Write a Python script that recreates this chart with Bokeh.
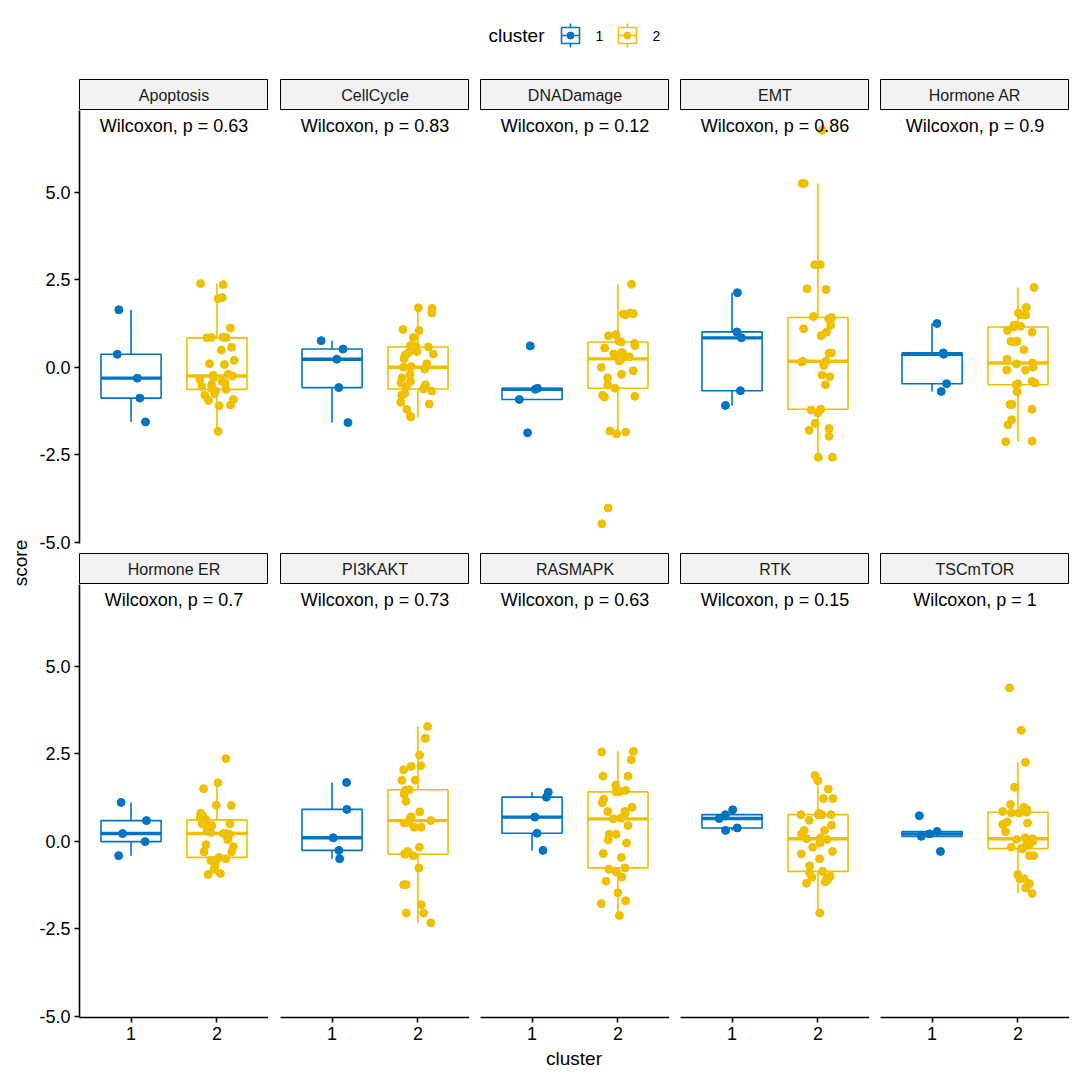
import numpy as np
from bokeh.plotting import figure
from bokeh.layouts import row, column
from bokeh.models import Range1d, FixedTicker, NumeralTickFormatter, ColumnDataSource
from bokeh.transform import jitter
from bokeh.core.properties import value
from bokeh.embed import file_html
from bokeh.resources import INLINE

# ---------------- data ----------------
pathways = ["Apoptosis", "CellCycle", "DNADamage", "EMT", "Hormone AR",
            "Hormone ER", "PI3KAKT", "RASMAPK", "RTK", "TSCmTOR"]
p_values = ["0.63", "0.83", "0.12", "0.86", "0.9", "0.7", "0.73", "0.63", "0.15", "1"]
cluster_labels = ["1", "2"]
y_ticks = [-5.0, -2.5, 0.0, 2.5, 5.0]

apoptosis_c1 = [1.64, 0.37, -0.31, -0.88, -1.56]
apoptosis_c2 = [2.39, 2.36, 1.99, 1.96, 1.12, 0.86, 0.85, 0.85, 0.84, 0.57, 0.49, 0.2, 0.1,
                0.08, -0.2, -0.23, -0.25, -0.3, -0.35, -0.4, -0.45, -0.5, -0.55, -0.6, -0.63,
                -0.68, -0.75, -0.8, -0.92, -0.95, -1.08, -1.1, -1.83]
cellcycle_c1 = [0.76, 0.52, 0.23, -0.58, -1.58]
cellcycle_c2 = [1.70, 1.68, 1.55, 1.08, 1.05, 0.85, 0.62, 0.60, 0.58, 0.45, 0.42, 0.38, 0.35,
                0.25, 0.1, 0.02, 0.0, -0.05, -0.2, -0.3, -0.4, -0.45, -0.5, -0.55, -0.62,
                -0.68, -0.75, -0.8, -1.0, -1.05, -1.2, -1.4, -1.42]
dnadamage_c1 = [0.61, -0.6, -0.63, -0.92, -1.87]
dnadamage_c2 = [2.37, 1.55, 1.53, 1.52, 1.50, 0.93, 0.90, 0.75, 0.72, 0.68, 0.62, 0.55, 0.42,
                0.40, 0.38, 0.3, 0.24, 0.2, 0.18, 0.0, -0.1, -0.2, -0.3, -0.5, -0.6,
                -0.8, -0.83, -0.85, -1.82, -1.85, -1.9, -4.02, -4.47]
emt_c1 = [2.13, 1.01, 0.84, -0.67, -1.09]
emt_c2 = [6.77, 5.25, 5.25, 2.93, 2.93, 2.24, 2.22, 1.45, 1.42, 1.38, 1.2, 1.1, 1.0,
          0.9, 0.41, 0.4, 0.17, 0.17, 0.15, 0.1, 0.05, -0.22, -0.27, -0.5, -1.2,
          -1.22, -1.3, -1.6, -1.75, -1.8, -1.97, -2.57, -2.57]
hormone_ar_c1 = [1.25, 0.41, 0.37, -0.47, -0.69]
hormone_ar_c2 = [2.28, 1.71, 1.55, 1.5, 1.49, 1.2, 1.2, 1.17, 1.15, 1.05, 1.0, 0.74, 0.74,
                 0.72, 0.5, 0.23, 0.12, 0.1, 0.0, -0.08, -0.08, -0.4, -0.45, -0.47, -0.5,
                 -0.7, -1.06, -1.06, -1.2, -1.5, -1.64, -2.13, -2.11]
hormone_er_c1 = [1.11, 0.59, 0.22, -0.01, -0.41]
hormone_er_c2 = [2.36, 1.67, 1.5, 1.03, 1.02, 0.8, 0.72, 0.68, 0.61, 0.5, 0.5, 0.45, 0.4,
                 0.35, 0.3, 0.25, 0.22, 0.22, 0.2, 0.05, -0.1, -0.15, -0.3, -0.3, -0.46,
                 -0.5, -0.55, -0.55, -0.6, -0.7, -0.8, -0.92, -0.95]
pi3kakt_c1 = [1.68, 0.91, 0.1, -0.26, -0.5]
pi3kakt_c2 = [3.28, 2.94, 2.46, 2.16, 2.14, 2.04, 1.74, 1.74, 1.47, 1.46, 1.45, 1.35, 1.14,
              0.84, 0.7, 0.66, 0.59, 0.54, 0.52, 0.4, 0.4, -0.17, -0.29, -0.36, -0.37,
              -0.41, -0.76, -1.24, -1.24, -1.81, -2.05, -2.05, -2.33]
rasmapk_c1 = [1.4, 1.26, 0.69, 0.23, -0.26]
rasmapk_c2 = [2.57, 2.55, 2.33, 1.86, 1.86, 1.6, 1.45, 1.42, 1.41, 1.2, 1.1, 0.97, 0.85,
              0.85, 0.8, 0.66, 0.64, 0.45, 0.2, 0.2, 0.04, -0.05, -0.35, -0.46, -0.76,
              -0.8, -0.88, -1.02, -1.14, -1.47, -1.7, -1.78, -2.12]
rtk_c1 = [0.9, 0.76, 0.65, 0.38, 0.31]
rtk_c2 = [1.88, 1.73, 1.49, 1.22, 1.22, 0.8, 0.76, 0.76, 0.76, 0.76, 0.6, 0.46, 0.31,
          0.31, 0.21, 0.1, 0.07, 0.05, -0.05, -0.17, -0.29, -0.36, -0.5, -0.7, -0.86,
          -0.9, -1.0, -1.03, -1.05, -1.1, -1.16, -1.2, -2.05]
tscmtor_c1 = [0.73, 0.28, 0.21, 0.14, -0.29]
tscmtor_c2 = [4.38, 3.17, 2.26, 1.54, 1.05, 0.97, 0.9, 0.85, 0.83, 0.81, 0.81, 0.55, 0.52,
              0.48, 0.27, 0.1, 0.07, 0.05, 0.03, 0.0, -0.05, -0.1, -0.17, -0.2, -0.21,
              -0.41, -0.41, -0.95, -1.07, -1.07, -1.21, -1.33, -1.49]

cluster1_scores = [apoptosis_c1, cellcycle_c1, dnadamage_c1, emt_c1, hormone_ar_c1,
                   hormone_er_c1, pi3kakt_c1, rasmapk_c1, rtk_c1, tscmtor_c1]
cluster2_scores = [apoptosis_c2, cellcycle_c2, dnadamage_c2, emt_c2, hormone_ar_c2,
                   hormone_er_c2, pi3kakt_c2, rasmapk_c2, rtk_c2, tscmtor_c2]

# ---------------- style ----------------
FONT = "Liberation Sans"
COLORS = ["#0073C2", "#EFC000"]
FRAME_W = 189
FRAME_H = 433
STRIP_H = 31
LEFT_BORDERS = [45, 12, 11, 11, 11]
SCORE_W = 34
TOTAL_W = SCORE_W + sum(b + FRAME_W for b in LEFT_BORDERS)

all_vals = np.concatenate([np.array(v, float) for v in cluster1_scores + cluster2_scores])
span = all_vals.max() - all_vals.min()
Y_LO = all_vals.min() - 0.05 * span
Y_HI = all_vals.max() + 0.05 * span


def box_stats(vals):
    v = np.array(vals, float)
    q1, med, q3 = np.percentile(v, [25, 50, 75])
    iqr = q3 - q1
    lo = v[v >= q1 - 1.5 * iqr].min()
    hi = v[v <= q3 + 1.5 * iqr].max()
    return q1, med, q3, lo, hi


def make_strip(name, col):
    left = LEFT_BORDERS[col]
    f = figure(width=left + FRAME_W, height=STRIP_H, x_range=Range1d(0, 1), y_range=Range1d(0, 1),
               output_backend="svg", toolbar_location=None,
               x_axis_location=None, y_axis_location=None,
               min_border_left=left, min_border_right=0, min_border_top=0, min_border_bottom=0)
    f.grid.visible = False
    f.background_fill_color = "#F2F2F2"
    f.border_fill_color = "white"
    f.outline_line_color = "black"
    f.outline_line_width = 1
    f.text(x=[0.5], y=[0.5], text=[name], text_font=value(FONT), text_font_size="16px",
           text_align="center", text_baseline="middle", text_color="#1a1a1a")
    return f


def make_panel(idx, row_i, col):
    left = LEFT_BORDERS[col]
    bottom = 10 if row_i == 0 else 28
    f = figure(width=left + FRAME_W, height=FRAME_H + bottom,
               x_range=Range1d(0.4, 2.6), y_range=Range1d(Y_LO, Y_HI),
               output_backend="svg", toolbar_location=None,
               x_axis_location=("below" if row_i == 1 else None),
               y_axis_location=("left" if col == 0 else None),
               min_border_left=left, min_border_right=0, min_border_top=0,
               min_border_bottom=bottom)
    f.grid.visible = False
    f.outline_line_color = None
    f.background_fill_color = "white"
    f.border_fill_color = "white"

    for k, vals in enumerate([cluster1_scores[idx], cluster2_scores[idx]]):
        xc = k + 1
        col_c = COLORS[k]
        q1, med, q3, lo, hi = box_stats(vals)
        f.segment(x0=[xc, xc], y0=[q3, q1], x1=[xc, xc], y1=[hi, lo],
                  line_color=col_c, line_width=1.6)
        f.quad(left=[xc - 0.35], right=[xc + 0.35], bottom=[q1], top=[q3],
               fill_color="white", line_color=col_c, line_width=1.6)
        f.segment(x0=[xc - 0.35], y0=[med], x1=[xc + 0.35], y1=[med],
                  line_color=col_c, line_width=3.4)
        src = ColumnDataSource(dict(x=[xc] * len(vals), y=list(vals)))
        f.scatter(x=jitter("x", width=0.4, distribution="uniform"), y="y", source=src,
                  size=8, fill_color=col_c, line_color=col_c)

    f.text(x=[1.5], y=[6.9], text=["Wilcoxon, p = " + p_values[idx]], text_font=value(FONT),
           text_font_size="18px", text_align="center", text_baseline="middle", text_color="black")

    axes = []
    if col == 0:
        ax = f.yaxis[0]
        ax.ticker = FixedTicker(ticks=y_ticks)
        ax.formatter = NumeralTickFormatter(format="0.0")
        axes.append(ax)
    if row_i == 1:
        ax = f.xaxis[0]
        ax.ticker = FixedTicker(ticks=[1, 2])
        ax.major_label_overrides = {1: cluster_labels[0], 2: cluster_labels[1]}
        axes.append(ax)
    for ax in axes:
        ax.axis_line_color = "black"
        ax.axis_line_width = 1.6
        ax.major_tick_line_color = "black"
        ax.major_tick_line_width = 1.6
        ax.major_tick_out = 5
        ax.major_tick_in = 0
        ax.minor_tick_line_color = None
        ax.major_label_text_font = FONT
        ax.major_label_text_font_size = "18px"
        ax.major_label_text_color = "black"
        ax.major_label_standoff = 4
    return f


strips_r0 = [make_strip(pathways[c], c) for c in range(5)]
panels_r0 = [make_panel(c, 0, c) for c in range(5)]
strips_r1 = [make_strip(pathways[5 + c], c) for c in range(5)]
panels_r1 = [make_panel(5 + c, 1, c) for c in range(5)]

grid = column(row(*strips_r0), row(*panels_r0), row(*strips_r1), row(*panels_r1))
GRID_H = STRIP_H * 2 + (FRAME_H + 10) + (FRAME_H + 28)


def blank_fig(w, h):
    f = figure(width=w, height=h, x_range=Range1d(0, w), y_range=Range1d(0, h),
               output_backend="svg", toolbar_location=None,
               x_axis_location=None, y_axis_location=None,
               min_border_left=0, min_border_right=0, min_border_top=0, min_border_bottom=0)
    f.grid.visible = False
    f.outline_line_color = None
    f.background_fill_color = "white"
    f.border_fill_color = "white"
    return f


# y-axis title
score_fig = blank_fig(SCORE_W, GRID_H)
score_fig.text(x=[20], y=[GRID_H - 483.5], text=["score"], angle=np.pi / 2,
               text_font=value(FONT), text_font_size="19px",
               text_align="center", text_baseline="middle", text_color="black")

# x-axis title
xlab_fig = blank_fig(TOTAL_W, 27)
xlab_fig.text(x=[573.5], y=[14], text=["cluster"], text_font=value(FONT), text_font_size="19px",
              text_align="center", text_baseline="middle", text_color="black")

# legend
LEG_H = 79
leg = blank_fig(TOTAL_W, LEG_H)
ly = LEG_H - 35
leg.text(x=[488], y=[ly], text=["cluster"], text_font=value(FONT), text_font_size="19px",
         text_align="left", text_baseline="middle", text_color="black")
key_x = [570, 627]
for k in range(2):
    kx = key_x[k]
    leg.segment(x0=[kx, kx], y0=[ly + 8, ly - 8], x1=[kx, kx], y1=[ly + 12, ly - 12],
                line_color=COLORS[k], line_width=1.6)
    leg.quad(left=[kx - 9], right=[kx + 9], bottom=[ly - 8], top=[ly + 8],
             fill_color="white", line_color=COLORS[k], line_width=1.6)
    leg.segment(x0=[kx - 9], y0=[ly], x1=[kx + 9], y1=[ly], line_color=COLORS[k], line_width=1.6)
    leg.scatter(x=[kx], y=[ly], size=7, fill_color=COLORS[k], line_color=COLORS[k])
    leg.text(x=[kx + 25], y=[ly], text=[cluster_labels[k]], text_font=value(FONT),
             text_font_size="14px", text_align="left", text_baseline="middle", text_color="black")

p = column(leg, row(score_fig, grid), xlab_fig)

open("out.html", "w").write(file_html(p, INLINE))
